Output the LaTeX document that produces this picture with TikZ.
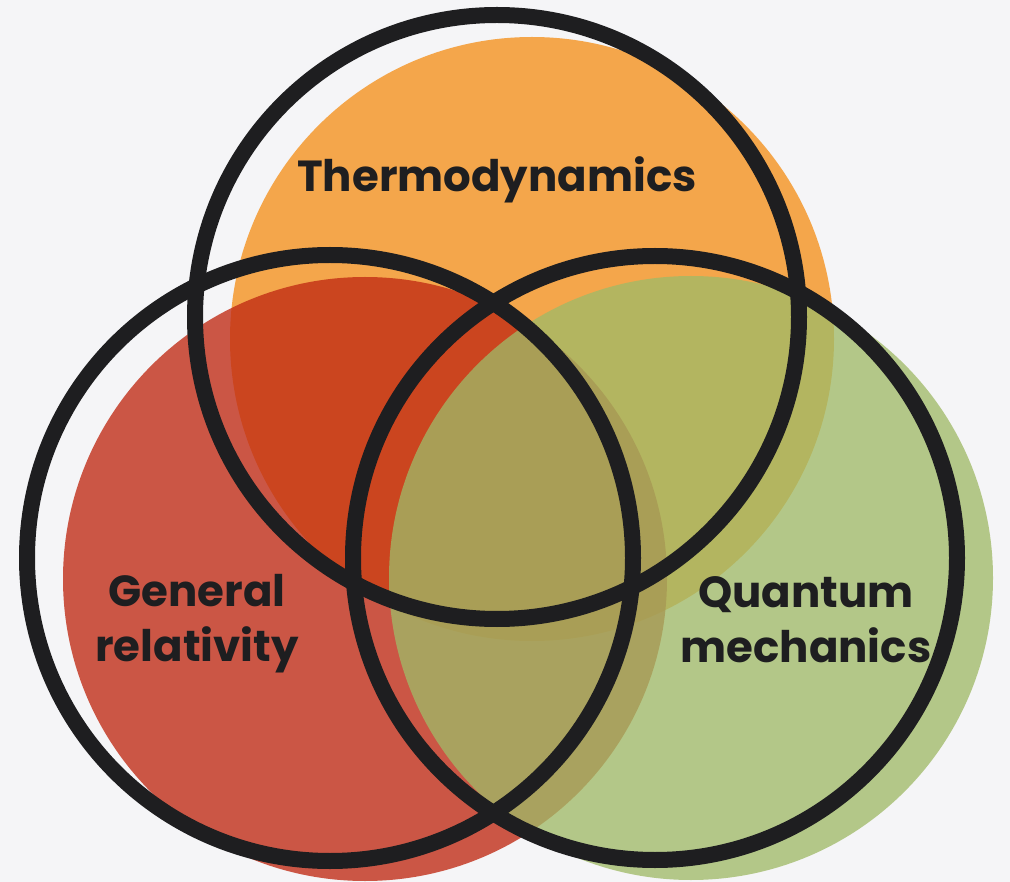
\documentclass[tikz,border=0pt]{standalone}
\usepackage{fontspec}
\setmainfont{Poppins}
\definecolor{bgpage}{HTML}{F5F5F7}
\definecolor{thermo}{HTML}{F4A64B}
\definecolor{relat}{RGB}{192,42,19}
\definecolor{quant}{RGB}{160,186,103}
\definecolor{ink}{HTML}{1E1E20}

\begin{document}
\begin{tikzpicture}[x=1pt, y=-1pt,
  ring/.style={draw=ink, line width=16pt},
  lbl/.style={font=\fontsize{43.5}{55}\selectfont\bfseries, text=ink, align=center, inner sep=0pt}]
\fill[bgpage] (0,0) rectangle (1010,882);
\useasboundingbox (0,0) rectangle (1010,882);
% filled discs
\fill[thermo] (532,339) circle (302pt);
\fill[relat, fill opacity=0.78] (365,579) circle (302pt);
\fill[quant, fill opacity=0.77] (691,578) circle (302pt);
% outline rings
\draw[ring] (497,317) circle (302pt);
\draw[ring] (330,558) circle (303pt);
\draw[ring] (655,558) circle (302pt);
% labels
\node[lbl, anchor=base] (thermo) at (497,192) {Thermodynamics};
\node[lbl] (relat) at (197,624) {General\\relativity};
\node[lbl] (quant) at (806,620) {Quantum\\mechanics};
\end{tikzpicture}
\end{document}
